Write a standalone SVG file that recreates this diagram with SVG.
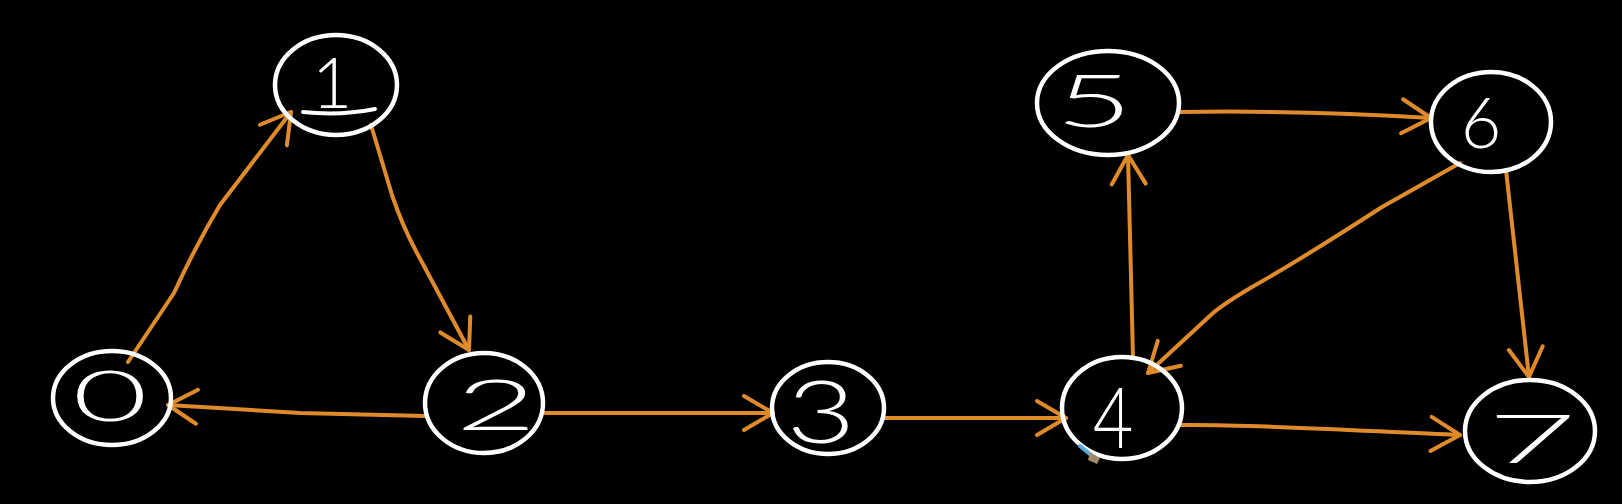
<svg xmlns="http://www.w3.org/2000/svg" width="1622" height="504" viewBox="0 0 1622 504">
<style>
.node{fill:none;stroke:#fff;stroke-width:4.5}
.lbl{fill:#fff;font-family:Lato,"Liberation Sans",sans-serif;font-weight:300;font-size:70px;text-anchor:middle}
.edge{fill:none;stroke:#E08B2B;stroke-width:4;stroke-linecap:round;stroke-linejoin:round;marker-end:url(#arr)}
</style>
<defs>
<marker id="arr" markerUnits="userSpaceOnUse" markerWidth="60" markerHeight="60" refX="0" refY="0" orient="auto" overflow="visible">
<path d="M-29,-17 L0,0 L-29,17" fill="none" stroke="#E08B2B" stroke-width="4" stroke-linecap="round" stroke-linejoin="round"/>
</marker>
</defs>
<rect width="1622" height="504" fill="#000"/>
<g id="connectors">
<path class="edge" d="M128,362 L174,293 Q196,245 220,205 L291,112"/>
<path class="edge" d="M371,125 L392,195 Q402,225 417,253 L469,350"/>
<path class="edge" d="M425,416 L300,413 L168,405"/>
<path class="edge" d="M545,413 L773,413"/>
<path class="edge" d="M884,418 L1066,418"/>
<path class="edge" d="M1133,358 L1128,155"/>
<path class="edge" d="M1180,112 Q1300,110 1431,118"/>
<path class="edge" d="M1460,163 L1382,207 Q1300,260 1252,287 Q1225,303 1213,313 L1148,373"/>
<path class="edge" d="M1506,170 L1529,377"/>
<path class="edge" d="M1180,425 C1260,424 1380,432 1460,435"/>
</g>
<g id="node0"><ellipse class="node" cx="112" cy="398" rx="59" ry="47"/><text class="lbl" transform="translate(110,421) scale(1.85,1)" x="0" y="0">0</text></g>
<g id="node1"><ellipse class="node" cx="336" cy="85" rx="61" ry="50"/><text class="lbl" x="332" y="108">1</text><path d="M303,112 Q340,116 375,109" fill="none" stroke="#fff" stroke-width="4" stroke-linecap="round"/></g>
<g id="node2"><ellipse class="node" cx="484" cy="403" rx="59" ry="50"/><text class="lbl" transform="translate(496,430) scale(2,1)" x="0" y="0">2</text></g>
<g id="node3"><ellipse class="node" cx="828" cy="408" rx="56" ry="46"/><text class="lbl" transform="translate(821,443) scale(1.7,1.25)" x="0" y="0">3</text></g>
<g id="node4"><ellipse class="node" cx="1122" cy="408" rx="60" ry="51"/><text class="lbl" transform="translate(1113,448) scale(1,1.2)" x="0" y="0">4</text></g>
<g id="node5"><ellipse class="node" cx="1108" cy="103" rx="71" ry="52"/><text class="lbl" transform="translate(1094,127) scale(1.9,1.04)" x="0" y="0">5</text></g>
<g id="node6"><ellipse class="node" cx="1491" cy="122" rx="60" ry="50"/><text class="lbl" x="1481" y="148">6</text></g>
<g id="node7"><ellipse class="node" cx="1530" cy="431" rx="65" ry="51"/><text class="lbl" transform="translate(1532,463) scale(2.2,0.95)" x="0" y="0">7</text></g>
<g id="pen"><path d="M1080,446 L1091,455" stroke="#5aa8e0" stroke-width="4" stroke-linecap="round"/><path d="M1090,452 L1100,458 L1097,464 L1088,460 Z" fill="#9c8a6a"/></g>
</svg>
